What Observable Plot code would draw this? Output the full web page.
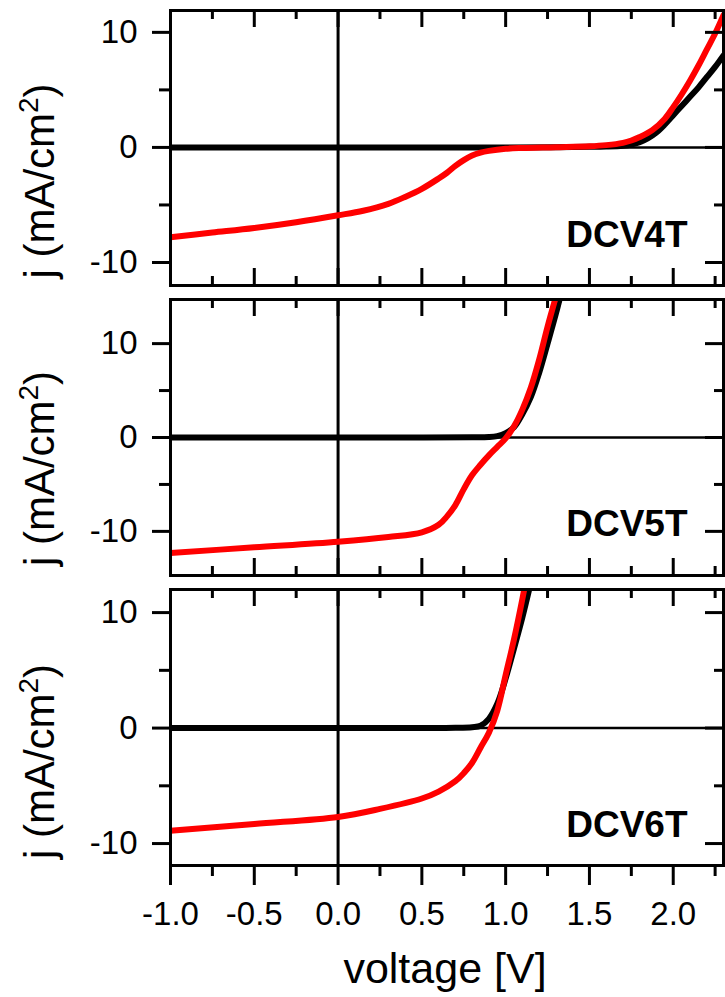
<!DOCTYPE html>
<html><head><meta charset="utf-8">
<script src="https://cdn.jsdelivr.net/npm/d3@7"></script>
<script src="https://cdn.jsdelivr.net/npm/@observablehq/plot@0.6"></script>
<style>
html,body{margin:0;padding:0;background:#fff;}
#chart{position:relative;width:725px;height:997px;overflow:hidden;background:#fff;}
#chart svg{position:absolute;left:0;}
</style></head><body><div id="chart"></div>
<script>
// ---- tick values and labels ----
const xTicksMajor = [-1.0, -0.5, 0.0, 0.5, 1.0, 1.5, 2.0];
const xTicksMinor = [-0.75, -0.25, 0.25, 0.75, 1.25, 1.75, 2.25];
const yTicksMajor = [-10, 0, 10];
const yTicksMinor = [-5, 5];
const panelNames = ["DCV4T", "DCV5T", "DCV6T"];
const yLabelBase = "j (mA/cm";
const yLabelSup = "2";
const yLabelEnd = ")";
const xLabel = "voltage [V]";
const xDomain = [-1.0, 2.3];
const yDomains = [[-12.0, 11.9], [-14.7, 14.7], [-11.9, 12.0]];

// ---- DCV4T ----
const dcv4tDarkV = [-1.0, -0.5, 0.0, 0.5, 1.0, 1.3, 1.5, 1.6, 1.7, 1.75, 1.8, 1.85, 1.9, 1.95, 2.0, 2.05, 2.1, 2.15, 2.2, 2.25, 2.3];
const dcv4tDarkJ = [0.0, 0.0, 0.0, 0.0, 0.0, 0.02, 0.05, 0.08, 0.15, 0.25, 0.45, 0.8, 1.3, 2.0, 2.8, 3.6, 4.4, 5.2, 6.1, 7.0, 8.0];
const dcv4tLightV = [-1.0, -0.75, -0.5, -0.25, 0.0, 0.15, 0.3, 0.4, 0.5, 0.6, 0.65, 0.7, 0.75, 0.8, 0.85, 0.9, 1.0, 1.1, 1.3, 1.5, 1.6, 1.7, 1.75, 1.8, 1.875, 1.95, 2.0, 2.05, 2.1, 2.15, 2.2, 2.25, 2.3];
const dcv4tLightJ = [-7.8, -7.4, -7.0, -6.5, -5.9, -5.5, -4.9, -4.3, -3.6, -2.7, -2.2, -1.6, -1.1, -0.7, -0.45, -0.3, -0.12, -0.05, 0.02, 0.1, 0.2, 0.4, 0.6, 0.9, 1.5, 2.5, 3.5, 4.6, 5.8, 7.1, 8.5, 9.9, 11.5];

// ---- DCV5T ----
const dcv5tDarkV = [-1.0, -0.5, 0.0, 0.5, 0.8, 0.9, 0.95, 1.0, 1.05, 1.1, 1.15, 1.2, 1.25, 1.3, 1.34];
const dcv5tDarkJ = [0.0, 0.0, 0.0, 0.0, 0.02, 0.05, 0.15, 0.45, 1.1, 2.5, 4.3, 6.9, 10.0, 13.2, 16.0];
const dcv5tLightV = [-1.0, -0.5, 0.0, 0.3, 0.5, 0.6, 0.65, 0.7, 0.75, 0.8, 0.85, 0.9, 0.95, 1.0, 1.05, 1.1, 1.15, 1.2, 1.25, 1.3];
const dcv5tLightJ = [-12.3, -11.7, -11.1, -10.6, -10.1, -9.3, -8.4, -7.2, -5.5, -4.0, -2.9, -1.9, -1.0, -0.1, 1.2, 3.0, 5.3, 8.3, 11.8, 15.0];

// ---- DCV6T ----
const dcv6tDarkV = [-1.0, -0.5, 0.0, 0.5, 0.7, 0.8, 0.85, 0.9, 0.95, 1.0, 1.05, 1.1, 1.15];
const dcv6tDarkJ = [0.0, 0.0, 0.0, 0.0, 0.02, 0.08, 0.2, 0.8, 2.1, 4.3, 6.9, 9.6, 12.6];
const dcv6tLightV = [-1.0, -0.5, 0.0, 0.25, 0.5, 0.6, 0.7, 0.75, 0.8, 0.85, 0.9, 0.95, 1.0, 1.05, 1.1, 1.13];
const dcv6tLightJ = [-8.9, -8.3, -7.7, -7.0, -6.1, -5.5, -4.6, -3.9, -3.0, -1.7, -0.4, 1.5, 4.6, 7.7, 11.2, 13.5];

const zip = (V, J) => V.map((v, i) => ({v, j: J[i]}));
const series = [
  {dark: zip(dcv4tDarkV, dcv4tDarkJ), light: zip(dcv4tLightV, dcv4tLightJ)},
  {dark: zip(dcv5tDarkV, dcv5tDarkJ), light: zip(dcv5tLightV, dcv5tLightJ)},
  {dark: zip(dcv6tDarkV, dcv6tDarkJ), light: zip(dcv6tLightV, dcv6tLightJ)}
];

// ---- layout (styles, not data) ----
const W = 725, ML = 170, MR = 2;
const layout = [
  {top: 0,   height: 292, mt: 10, mb: 7,   nameDy: -39, labelDy: 33, last: false},
  {top: 292, height: 290, mt: 7,  mb: 7,   nameDy: -40, labelDy: 31, last: false},
  {top: 582, height: 415, mt: 7,  mb: 132, nameDy: -29, labelDy: 34, last: true}
];
const FONT = "'Liberation Sans', Arial, Helvetica, sans-serif";
const chart = document.getElementById("chart");

layout.forEach((L, i) => {
  const FW = W - ML - MR;
  const FH = L.height - L.mt - L.mb;
  const sw = 3;
  const marks = [
    Plot.ruleY([0], {stroke: "#000", strokeWidth: 2.5}),
    Plot.ruleX([0], {stroke: "#000", strokeWidth: 3}),
    Plot.line(series[i].dark, {x: "v", y: "j", stroke: "#000", strokeWidth: 6, curve: "catmull-rom", clip: true}),
    Plot.line(series[i].light, {x: "v", y: "j", stroke: "#ff0000", strokeWidth: 6, curve: "catmull-rom", clip: true}),
    // top ticks (inward)
    Plot.ruleX(xTicksMajor, {x: d => d, insetBottom: FH - 17, stroke: "#000", strokeWidth: sw}),
    Plot.ruleX(xTicksMinor, {x: d => d, insetBottom: FH - 9, stroke: "#000", strokeWidth: sw}),
    // bottom ticks
    L.last
      ? Plot.ruleX(xTicksMajor, {x: d => d, insetTop: FH, insetBottom: -20, stroke: "#000", strokeWidth: sw})
      : Plot.ruleX(xTicksMajor, {x: d => d, insetTop: FH - 17, stroke: "#000", strokeWidth: sw}),
    L.last
      ? Plot.ruleX(xTicksMinor, {x: d => d, insetTop: FH, insetBottom: -11, stroke: "#000", strokeWidth: sw})
      : Plot.ruleX(xTicksMinor, {x: d => d, insetTop: FH - 9, stroke: "#000", strokeWidth: sw}),
    // left ticks (outward)
    Plot.ruleY(yTicksMajor, {y: d => d, insetLeft: -18, insetRight: FW, stroke: "#000", strokeWidth: sw}),
    Plot.ruleY(yTicksMinor, {y: d => d, insetLeft: -11, insetRight: FW, stroke: "#000", strokeWidth: sw}),
    // right ticks (inward)
    Plot.ruleY(yTicksMajor, {y: d => d, insetLeft: FW - 18, stroke: "#000", strokeWidth: sw}),
    Plot.ruleY(yTicksMinor, {y: d => d, insetLeft: FW - 9, stroke: "#000", strokeWidth: sw}),
    Plot.frame({stroke: "#000", strokeWidth: sw}),
    Plot.text([panelNames[i]], {text: d => d, frameAnchor: "bottom-right", textAnchor: "end", lineAnchor: "bottom",
      dx: -36, dy: L.nameDy, fontSize: 37, fontWeight: "bold", fill: "#000"}),
    Plot.text([yLabelBase + yLabelSup + yLabelEnd], {text: d => d, frameAnchor: "left", textAnchor: "middle", rotate: -90, lineAnchor: "bottom",
      dx: -117, dy: L.labelDy, fontSize: 42, fill: "#000"})
  ];
  if (L.last) {
    marks.push(Plot.text([xLabel], {text: d => d, frameAnchor: "bottom", textAnchor: "middle", lineAnchor: "bottom",
      dx: -2, dy: 117, fontSize: 43, fill: "#000"}));
  }
  const svg = Plot.plot({
    width: W, height: L.height,
    marginLeft: ML, marginRight: MR, marginTop: L.mt, marginBottom: L.mb,
    style: {fontFamily: FONT, fontSize: "33px", color: "#000", background: "transparent", overflow: "visible"},
    x: L.last
      ? {domain: xDomain, ticks: xTicksMajor, tickSize: 0, tickPadding: 36, tickFormat: d => d.toFixed(1), label: null}
      : {domain: xDomain, axis: null},
    y: {domain: yDomains[i], ticks: yTicksMajor, tickSize: 0, tickPadding: 33, tickFormat: d => String(d), label: null},
    marks
  });
  // typeset the superscript "2" of the y label as a raised tspan
  svg.querySelectorAll("text").forEach(t => {
    if (t.textContent === yLabelBase + yLabelSup + yLabelEnd) {
      while (t.firstChild) t.removeChild(t.firstChild);
      const ns = "http://www.w3.org/2000/svg";
      const a = document.createElementNS(ns, "tspan"); a.textContent = yLabelBase;
      const b = document.createElementNS(ns, "tspan"); b.textContent = yLabelSup;
      b.setAttribute("font-size", "28"); b.setAttribute("dy", "-16");
      const c = document.createElementNS(ns, "tspan"); c.textContent = yLabelEnd;
      c.setAttribute("dy", "16");
      t.appendChild(a); t.appendChild(b); t.appendChild(c);
    }
  });
  svg.style.top = L.top + "px";
  chart.appendChild(svg);
});
</script>
</body></html>
